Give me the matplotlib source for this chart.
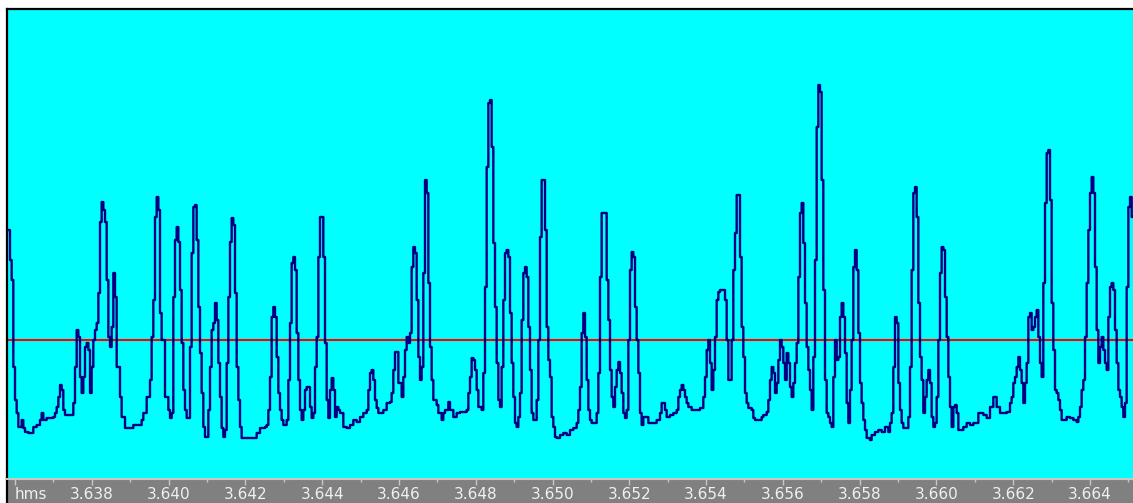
import numpy as np
import matplotlib
matplotlib.use('Agg')
import matplotlib.pyplot as plt
import matplotlib.transforms as mtransforms

# ---- data ----
t_start = 3.635609          # seconds, time of sample index 0
sample_period = 4.341e-5    # seconds per sample index

sample_idx = [
    4, 6, 7, 8, 9, 10, 11, 13, 14, 15,
    17, 20, 22, 24, 25, 26, 28, 32, 33, 34,
    35, 36, 37, 38, 39, 44, 45, 46, 47, 48,
    49, 50, 51, 52, 53, 54, 55, 56, 57, 58,
    59, 60, 61, 62, 63, 64, 65, 66, 67, 68,
    69, 70, 72, 73, 75, 80, 85, 86, 88, 90,
    91, 92, 93, 94, 95, 96, 97, 99, 101, 102,
    103, 104, 105, 106, 107, 108, 109, 110, 111, 112,
    114, 115, 116, 117, 118, 119, 120, 121, 122, 123,
    125, 126, 127, 128, 129, 130, 131, 132, 133, 134,
    135, 136, 137, 138, 139, 140, 141, 142, 143, 144,
    145, 154, 156, 159, 160, 161, 162, 163, 164, 165,
    166, 167, 168, 169, 170, 172, 173, 174, 175, 176,
    177, 178, 179, 180, 181, 182, 183, 184, 186, 187,
    188, 189, 190, 191, 192, 194, 195, 196, 197, 198,
    199, 200, 201, 202, 203, 204, 206, 208, 210, 212,
    214, 216, 218, 220, 221, 222, 223, 224, 225, 226,
    227, 230, 232, 234, 235, 236, 237, 239, 241, 242,
    243, 244, 245, 246, 247, 248, 249, 250, 251, 252,
    253, 254, 255, 256, 257, 258, 259, 260, 262, 263,
    265, 266, 267, 269, 270, 272, 274, 276, 280, 281,
    282, 283, 284, 285, 286, 287, 289, 290, 291, 292,
    293, 294, 295, 296, 297, 298, 299, 300, 301, 302,
    303, 304, 305, 306, 307, 308, 309, 310, 311, 312,
    313, 314, 315, 316, 317, 318, 319, 320, 322, 323,
    324, 325, 327, 328, 329, 330, 331, 332, 333, 334,
    336, 338, 340, 342, 344, 346, 347, 348, 349, 350,
    351, 352, 353, 354, 355, 358, 359, 360, 361, 364,
    365, 366, 367, 368, 369, 370, 371, 372, 373, 374,
    375, 376, 377, 378, 379, 380, 381, 382, 383, 384,
    385, 386, 389, 394, 396, 397, 399, 400, 402, 404,
    406, 407, 408, 409, 410, 411, 412, 413, 415, 420,
    422, 423, 424, 425, 426, 427, 428, 429, 430, 431,
    432, 435, 436, 437, 439, 440, 441, 442, 444, 445,
    446, 447, 448, 449, 451, 452, 453, 457, 458, 460,
    461, 462, 463, 464, 465, 466, 467, 468, 469, 470,
    471, 472, 473, 474, 475, 476, 477, 478, 479, 480,
    481, 482, 483, 484, 485, 486, 487, 488, 489, 490,
    491, 492, 493, 494, 495, 496, 497, 498, 499, 500,
    501, 502, 503, 504, 505, 506, 507, 508, 509, 510,
    511, 512, 513, 514, 515, 516, 517, 518, 519, 520,
    522, 523, 525, 527, 529, 531, 533, 534, 535, 536,
    537, 538, 539, 540, 541, 542, 545, 546, 547, 548,
    549, 550, 551, 552, 553, 554, 555, 556, 557, 558,
    559, 560, 561, 562, 563, 564, 565, 566, 567, 568,
    569, 570, 571, 572, 573, 574, 575, 578, 580, 582,
    584, 587, 590, 592, 594, 596, 598, 600, 604, 606,
    607, 608, 609, 610, 611, 612, 613, 614, 615, 616,
    617, 618, 619, 620, 621, 622, 623, 624, 625, 626,
    627, 628, 629, 630, 631, 632, 633, 634, 635, 636,
    637, 640, 642, 644, 646, 647, 648, 649, 650, 651,
    652, 653, 654, 655, 656, 657, 658, 659, 660, 661,
    662, 663, 664, 665, 666, 667, 668, 669, 670, 671,
    672, 673, 674, 675, 676, 677, 678, 679, 680,
]

level = [
    110, 80, 60, -27, -60, -73, -87, -80, -88, -92,
    -93, -87, -85, -80, -73, -80, -78, -77, -73, -67,
    -57, -45, -50, -70, -75, -63, -27, 10, 3, -37,
    -53, -37, -7, -3, -10, -53, -27, 0, 10, 17,
    47, 118, 138, 130, 118, 60, 3, -7, 13, 67,
    43, -27, -57, -77, -88, -85, -80, -73, -57, -40,
    3, 40, 123, 143, 130, 27, 0, -57, -70, -78,
    -73, 43, 100, 113, 98, 50, -3, -50, -70, -78,
    -7, 87, 133, 135, 100, 33, -13, -53, -87, -97,
    -70, -27, 10, 17, 37, 20, -23, -57, -88, -97,
    -90, -23, 43, 98, 122, 115, 47, -27, -60, -87,
    -98, -93, -88, -87, -85, -70, -37, 23, 33, 23,
    -17, -53, -70, -80, -85, -80, -40, 17, 77, 83,
    70, 7, -40, -70, -80, -70, -50, -47, -67, -78,
    -73, -27, 3, 83, 123, 83, -3, -60, -78, -50,
    -38, -50, -77, -67, -70, -73, -87, -88, -85, -80,
    -82, -77, -73, -70, -50, -33, -30, -40, -60, -68,
    -73, -70, -63, -62, -53, -30, -12, -43, -57, -37,
    -10, 3, -3, 7, 73, 93, 87, 40, -17, -40,
    -27, 67, 160, 147, 57, -7, -40, -60, -65, -73,
    -80, -73, -70, -62, -70, -77, -73, -72, -70, -53,
    -37, -18, -20, -30, -50, -67, -70, -33, 53, 173,
    237, 240, 193, 97, 33, -23, -60, -67, -27, 40,
    87, 90, 83, 27, -23, -57, -83, -87, -77, -53,
    20, 67, 73, 63, 13, -30, -73, -80, -60, 0,
    103, 160, 110, 13, -20, -37, -77, -87, -97, -98,
    -95, -93, -95, -90, -88, -83, -70, -47, 7, 27,
    3, -40, -70, -80, -83, -73, -33, 63, 127, 60,
    20, -30, -57, -67, -47, -30, -22, -33, -53, -73,
    -78, -70, 0, 70, 88, 83, 33, 0, -33, -73,
    -85, -77, -83, -80, -73, -63, -70, -77, -75, -73,
    -70, -57, -50, -45, -50, -57, -63, -67, -70, -68,
    -57, -37, -10, 0, -23, -50, -30, 3, 40, 48,
    50, 40, 0, -40, 0, 70, 107, 145, 83, 13,
    -17, -53, -63, -68, -70, -78, -80, -77, -75, -72,
    -60, -40, -27, -33, -53, -43, -20, 0, -7, -23,
    -40, -13, -23, -47, -57, -43, -23, -3, 63, 127,
    137, 97, 37, -7, -30, -50, -70, -17, 80, 213,
    255, 248, 160, 50, -40, -73, -77, -83, -87, -37,
    0, -20, -17, 23, 37, 23, -13, -63, -83, -50,
    0, 73, 90, 70, 7, -43, -63, -80, -90, -98,
    -100, -95, -92, -90, -92, -87, -92, -83, -73, -27,
    23, 17, -43, -70, -83, -88, -77, -27, 70, 147,
    153, 123, 37, -17, -40, -73, -57, -40, -30, -43,
    -77, -87, -83, -57, 0, 67, 93, 90, 43, 3,
    -37, -67, -87, -67, -65, -73, -90, -87, -83, -85,
    -83, -73, -75, -78, -67, -57, -67, -73, -72, -63,
    -57, -43, -37, -27, -17, -30, -43, -63, -43, -23,
    23, 27, 10, 13, 23, 30, 3, -23, -37, 57,
    137, 187, 190, 140, 37, -10, -50, -53, -60, -70,
    -80, -77, -78, -80, -82, -77, -67, -50, -40, 3,
    57, 110, 147, 163, 147, 73, 10, -23, -7, 3,
    -10, -23, -30, 23, 53, 57, 50, 10, -23, -50,
    -57, -67, -77, -63, 53, 133, 143, 123, 123,
]

threshold = 0

tick_values = [3.636, 3.638, 3.640, 3.642, 3.644, 3.646, 3.648, 3.650,
               3.652, 3.654, 3.656, 3.658, 3.660, 3.662, 3.664]
tick_labels = ['hms', '3.638', '3.640', '3.642', '3.644', '3.646', '3.648', '3.650',
               '3.652', '3.654', '3.656', '3.658', '3.660', '3.662', '3.664']
minor_values = [3.637, 3.639, 3.641, 3.643, 3.645, 3.647, 3.649, 3.651,
                3.653, 3.655, 3.657, 3.659, 3.661, 3.663, 3.665]

# ---- figure ----
W, H = 1133, 503
fig = plt.figure(figsize=(W / 100, H / 100), dpi=100)
fig.patch.set_facecolor('white')

xlim = (t_start + 4.2 * sample_period, t_start + 679.8 * sample_period)

ax = fig.add_axes([7 / W, 24 / H, 1126 / W, 470 / H])
ax.set_facecolor('#00ffff')
t = t_start + np.asarray(sample_idx) * sample_period
ax.axhline(threshold, color='#ff0000', lw=1.5, zorder=2)
ax.step(t, level, where='post', color='#000080', lw=1.7, zorder=3)
ax.set_xlim(xlim)
ax.set_ylim(-139, 331)
ax.set_xticks([])
ax.set_yticks([])
for s in ['right', 'bottom']:
    ax.spines[s].set_visible(False)
for s in ['top', 'left']:
    ax.spines[s].set_linewidth(1.6)
    ax.spines[s].set_color('black')

band = fig.add_axes([7 / W, 0, 1126 / W, 24 / H])
band.set_facecolor('#808080')
band.set_xlim(xlim)
band.set_ylim(0, 1)
band.set_yticks([])
band.xaxis.set_ticks_position('top')
band.set_xticks(tick_values)
band.set_xticks(minor_values, minor=True)
band.tick_params(axis='x', which='major', direction='in', length=4, width=1,
                 color='#c8c8c0', labeltop=False, labelbottom=False)
band.tick_params(axis='x', which='minor', direction='in', length=2, width=1,
                 color='#c8c8c0')
band.spines['top'].set_color('#c8c8c0')
band.spines['top'].set_linewidth(1.5)
band.spines['left'].set_color('black')
band.spines['left'].set_linewidth(1.6)
band.spines['right'].set_visible(False)
band.spines['bottom'].set_visible(False)

trans = mtransforms.blended_transform_factory(band.transData, band.transAxes)
for i, (v, lab) in enumerate(zip(tick_values, tick_labels)):
    band.text(v, 0.17, lab, transform=trans, ha='left' if i == 0 else 'center',
              va='baseline', fontsize=11, color='#f0f0f0', family='DejaVu Sans')

fig.savefig('out.png', dpi=100)
